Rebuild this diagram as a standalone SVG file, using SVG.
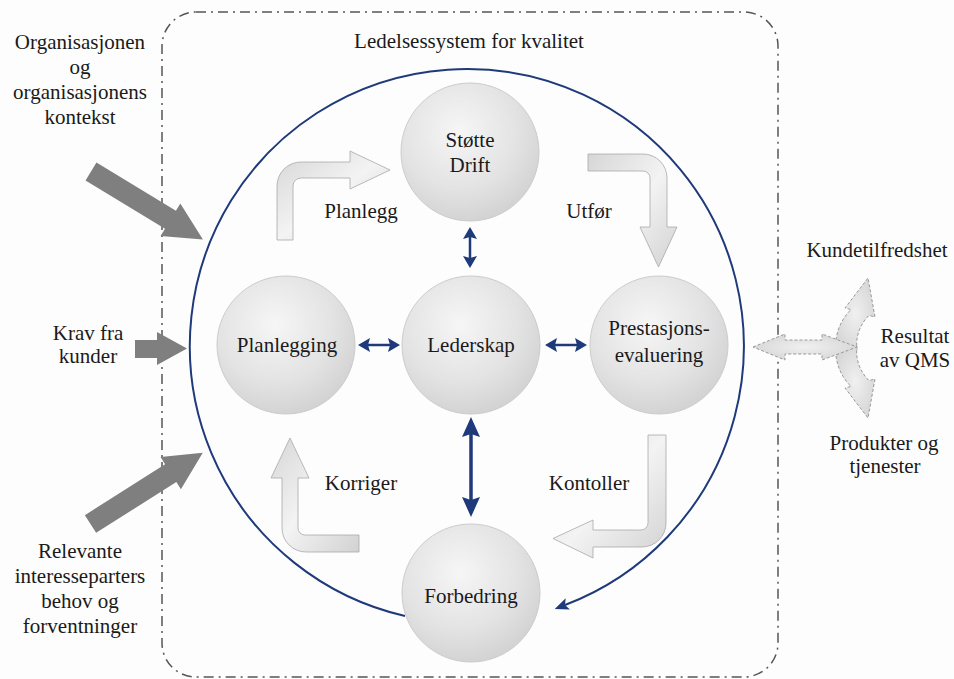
<svg xmlns="http://www.w3.org/2000/svg" width="954" height="679" viewBox="0 0 954 679">
<style>
text{font-family:"Liberation Serif",Tinos,"Times New Roman","DejaVu Serif",serif;font-size:21px;fill:#1a1a1a;text-anchor:middle}
.node{fill:url(#ng);stroke:#cccccc;stroke-width:1}
.bent{fill:url(#bg);stroke:#a8a8a8;stroke-width:0.8}
.inp{fill:#7f7f7f}
.out{fill:url(#og);stroke:#9a9a9a;stroke-width:1;stroke-dasharray:3 2}
.blue{stroke:#1f3a7a;fill:none}
</style>
<defs>
<radialGradient id="ng" cx="0.42" cy="0.35" r="0.7">
<stop offset="0" stop-color="#f6f6f6"/>
<stop offset="0.6" stop-color="#e3e3e3"/>
<stop offset="1" stop-color="#d0d0d0"/>
</radialGradient>
<linearGradient id="bg" x1="0" y1="0" x2="1" y2="1">
<stop offset="0" stop-color="#d6d6d6"/>
<stop offset="0.5" stop-color="#f3f3f3"/>
<stop offset="1" stop-color="#d2d2d2"/>
</linearGradient>
<radialGradient id="og" cx="0.5" cy="0.5" r="0.6">
<stop offset="0" stop-color="#f0f0f0"/>
<stop offset="1" stop-color="#d4d4d4"/>
</radialGradient>
<marker id="hs" markerUnits="userSpaceOnUse" viewBox="0 0 12 14" refX="2" refY="7" markerWidth="12" markerHeight="14" orient="auto-start-reverse">
<path d="M0,0 L12,7 L0,14 L2,7 Z" fill="#1f3a7a"/>
</marker>
<marker id="hl" markerUnits="userSpaceOnUse" viewBox="0 0 20 18" refX="3" refY="9" markerWidth="20" markerHeight="18" orient="auto-start-reverse">
<path d="M0,0 L20,9 L0,18 L3,9 Z" fill="#1f3a7a"/>
</marker>
<marker id="hc" markerUnits="userSpaceOnUse" viewBox="0 0 14 12" refX="3" refY="6" markerWidth="14" markerHeight="12" orient="auto">
<path d="M0,0 L14,6 L0,12 L3,6 Z" fill="#1f3a7a"/>
</marker>
</defs>
<rect x="0" y="0" width="954" height="679" fill="#fdfdfd"/>

<g id="boundary">
<rect x="162" y="12" width="616" height="665" rx="34" fill="none" stroke="#555" stroke-width="1.5" stroke-dasharray="10 5 2 5"/>
<text x="469" y="48" font-family="Liberation Serif, serif">Ledelsessystem for kvalitet</text>
</g>

<g id="connectors">
<path class="blue" stroke-width="2" d="M405,616 A277,277 0 1 1 565,605" marker-end="url(#hc)"/>
<line class="blue" stroke-width="2.5" x1="470" y1="237" x2="470" y2="258" marker-start="url(#hs)" marker-end="url(#hs)"/>
<line class="blue" stroke-width="2.5" x1="368" y1="345" x2="390" y2="345" marker-start="url(#hs)" marker-end="url(#hs)"/>
<line class="blue" stroke-width="2.5" x1="555" y1="345" x2="577" y2="345" marker-start="url(#hs)" marker-end="url(#hs)"/>
<line class="blue" stroke-width="3.5" x1="471" y1="434" x2="471" y2="500" marker-start="url(#hl)" marker-end="url(#hl)"/>

<g id="arrow-planlegg">
<path class="bent" d="M277,240 V186 A24,24 0 0 1 301,162 H350 V151 L390,170 L350,189 V178 H301 A8,8 0 0 0 293,186 V240 Z"/>
<text x="361" y="218">Planlegg</text>
</g>
<g id="arrow-utfor">
<path class="bent" d="M588,154 H643 A24,24 0 0 1 667,178 V227 H677 L658.5,267 L640,227 H650 V178 A7,7 0 0 0 643,171 H588 Z"/>
<text x="589" y="218">Utfør</text>
</g>
<g id="arrow-kontoller">
<path class="bent" d="M648,435 H666 V523 A24,24 0 0 1 642,547 H593 V558 L553,538.5 L593,520 V530 H641 A7,7 0 0 0 648,523 Z"/>
<text x="589" y="490">Kontoller</text>
</g>
<g id="arrow-korriger">
<path class="bent" d="M359,535 V552 H306 A24,24 0 0 1 282,528 V478 H271 L290,438 L309,478 H298 V528 A7,7 0 0 0 305,535 Z"/>
<text x="361" y="490">Korriger</text>
</g>

<path class="inp" transform="translate(91,171.5) rotate(31.3)" d="M0,-10.5 H93 V-19 L131,0 L93,19 V10.5 H0 Z"/>
<path class="inp" d="M135,340 H157 V332 L187,348.5 L157,365 V358 H135 Z"/>
<path class="inp" transform="translate(90.5,524) rotate(-32.4)" d="M0,-10.5 H95 V-19 L133,0 L95,19 V10.5 H0 Z"/>

<path class="out" d="M836,350 C834,334 842,318 851,309.6 L845,308 L868,278 L875,317 L869,315.4 C861,323 855,336 857,350 Z"/>
<path class="out" d="M836,346 C834,362 842,378 851,386.4 L845,388 L868,418 L875,379 L869,380.6 C861,373 855,360 857,346 Z"/>
<path class="out" d="M753,347 L785,334 V340 H822 V334 L857,347 L822,360 V354 H785 V360 Z"/>
</g>

<g id="node-stotte">
<circle class="node" cx="470" cy="152" r="69"/>
<text x="470" y="147">Støtte</text>
<text x="470" y="172">Drift</text>
</g>
<g id="node-planlegging">
<circle class="node" cx="286" cy="345" r="69"/>
<text x="287" y="352">Planlegging</text>
</g>
<g id="node-lederskap">
<circle class="node" cx="471" cy="345" r="69"/>
<text x="471" y="352">Lederskap</text>
</g>
<g id="node-prestasjon">
<circle class="node" cx="659" cy="345" r="69"/>
<text x="659" y="335">Prestasjons-</text>
<text x="659" y="362">evaluering</text>
</g>
<g id="node-forbedring">
<circle class="node" cx="471" cy="593" r="69"/>
<text x="471" y="603">Forbedring</text>
</g>

<g id="input-kontekst">
<text x="80" y="49">Organisasjonen</text>
<text x="80" y="74">og</text>
<text x="80" y="99">organisasjonens</text>
<text x="80" y="124">kontekst</text>
</g>
<g id="input-krav">
<text x="88" y="340">Krav fra</text>
<text x="88" y="363">kunder</text>
</g>
<g id="input-interessenter">
<text x="80" y="558">Relevante</text>
<text x="80" y="583">interesseparters</text>
<text x="80" y="608">behov og</text>
<text x="80" y="633">forventninger</text>
</g>
<g id="output">
<text x="877" y="257">Kundetilfredshet</text>
<text x="915" y="343">Resultat</text>
<text x="915" y="367">av QMS</text>
<text x="884" y="450">Produkter og</text>
<text x="885" y="473">tjenester</text>
</g>
</svg>
